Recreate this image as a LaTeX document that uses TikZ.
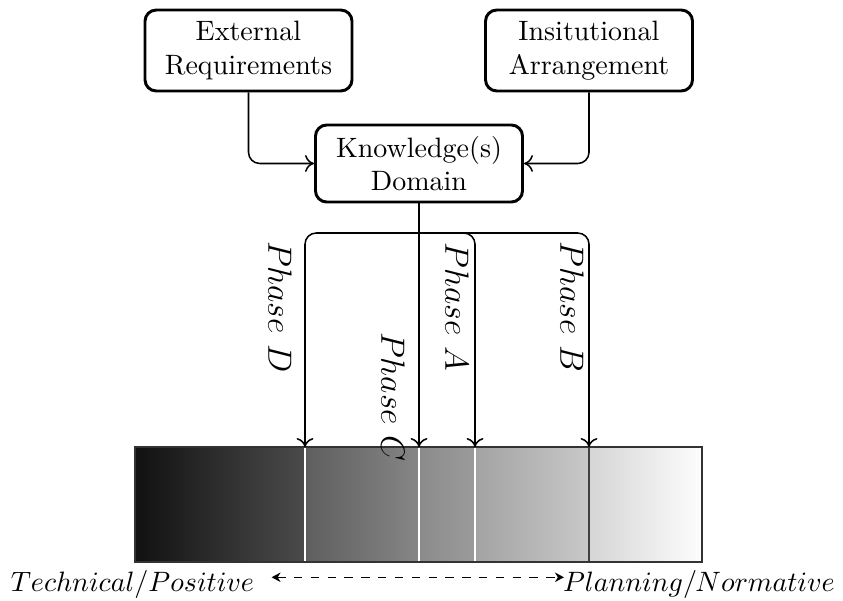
\documentclass[tikz,border=0pt]{standalone}
\usetikzlibrary{arrows.meta}
\definecolor{sAl}{gray}{0.067}\definecolor{sAr}{gray}{0.294}
\definecolor{sBl}{gray}{0.369}\definecolor{sBr}{gray}{0.525}
\definecolor{sCl}{gray}{0.545}\definecolor{sCr}{gray}{0.608}
\definecolor{sDl}{gray}{0.639}\definecolor{sDr}{gray}{0.784}
\definecolor{sEl}{gray}{0.835}\definecolor{sEr}{gray}{0.992}
\begin{document}
\begin{tikzpicture}[x=0.357pt,y=-0.357pt,
  box/.style={draw, line width=1.05pt, rounded corners=4pt, align=center,
    minimum width=73.9pt, inner sep=2pt},
  conn/.style={line width=0.55pt, -{To[length=3.2pt,width=6pt]}},
  phase/.style={rotate=-90, font=\large, inner sep=1pt},
  lbl/.style={anchor=base, inner sep=0pt},
  divw/.style={white, line width=0.6pt},
  divd/.style={black!75, line width=0.6pt}]
\useasboundingbox (0,0) rectangle (843,601);
% boxes
\node[box, minimum height=28.9pt] (ext) at (248.5,50.5) {External\\Requirements};
\node[box, minimum height=28.9pt] (inst) at (589,50.5) {Insitutional\\Arrangement};
\node[box, minimum height=27.5pt] (know) at (419,163.5) {Knowledge(s)\\Domain};
% bar
\shade[left color=sAl, right color=sAr] (135,447) rectangle (305,562);
\shade[left color=sBl, right color=sBr] (305,447) rectangle (419,562);
\shade[left color=sCl, right color=sCr] (419,447) rectangle (475,562);
\shade[left color=sDl, right color=sDr] (475,447) rectangle (589,562);
\shade[left color=sEl, right color=sEr] (589,447) rectangle (702,562);
\draw[divw] (305,447) -- (305,562);
\draw[divw] (419,447) -- (419,562);
\draw[divw] (475,447) -- (475,562);
\draw[divd] (589,447) -- (589,562);
\draw[black!80, line width=0.5pt] (135,447) rectangle (702,562);
% arrow targets
\coordinate (pD) at (305,447);
\coordinate (pC) at (419,447);
\coordinate (pA) at (475,447);
\coordinate (pB) at (589,447);
\coordinate (fork) at (419,233);
% connectors
\draw[conn, rounded corners=4pt] (ext.south) |- (know.west);
\draw[conn, rounded corners=4pt] (inst.south) |- (know.east);
\draw[conn] (know.south) -- (pC);
\draw[conn, rounded corners=4pt] (fork) -| (pD);
\draw[conn, rounded corners=4pt] (fork) -| (pA);
\draw[conn, rounded corners=4pt] (fork) -| (pB);
% phase labels
\node[phase] (lD) at (280,307) {$Phase\ D$};
\node[phase] (lA) at (457,307) {$Phase\ A$};
\node[phase] (lB) at (572,307) {$Phase\ B$};
\node[phase] (lC) at (393,397) {$Phase\ C$};
% bottom
\node[lbl] (tech) at (132.5,591) {$Technical/Positive$};
\node[lbl] (plan) at (699,591) {$Planning/Normative$};
\draw[dashed, line width=0.45pt, {Stealth[length=3.2pt,width=3.4pt]}-{Stealth[length=3.2pt,width=3.4pt]}]
  ([xshift=6pt,yshift=2.4pt]tech.east) -- ([xshift=0.5pt,yshift=2.4pt]plan.west);
\end{tikzpicture}
\end{document}
